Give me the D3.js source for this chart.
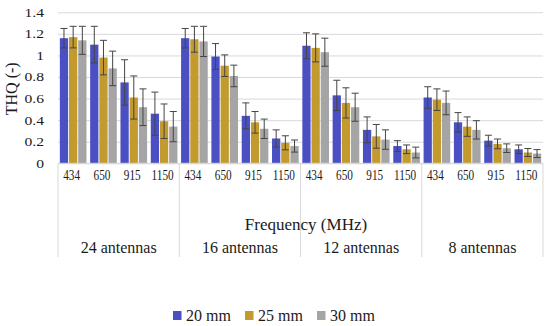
<!DOCTYPE html>
<html>
<head>
<meta charset="utf-8">
<script src="https://cdn.jsdelivr.net/npm/d3@7"></script>
<style>
  body { margin: 0; background: #fff; }
  svg { display: block; }
</style>
</head>
<body>
<div id="chart"></div>
<script>
const groups = ["24 antennas", "16 antennas", "12 antennas", "8 antennas"];
const freqs = ["434", "650", "915", "1150"];
const series = ["20 mm", "25 mm", "30 mm"];
const colors = ["#4a50c2", "#c29a2e", "#a5a5a5"];
const yTicks = [0, 0.2, 0.4, 0.6, 0.8, 1, 1.2, 1.4];

// values in order: group by group, 434/650/915/1150 inside each
const thq20 = [1.16, 1.10, 0.75, 0.46, 1.16, 0.99, 0.44, 0.23, 1.09, 0.63, 0.31, 0.16, 0.61, 0.38, 0.21, 0.13];
const thq25 = [1.17, 0.98, 0.61, 0.39, 1.15, 0.905, 0.38, 0.19, 1.07, 0.56, 0.25, 0.13, 0.59, 0.34, 0.18, 0.10];
const thq30 = [1.14, 0.88, 0.52, 0.34, 1.13, 0.81, 0.32, 0.16, 1.03, 0.52, 0.22, 0.10, 0.56, 0.31, 0.14, 0.09];
const err20 = [0.09, 0.17, 0.21, 0.20, 0.09, 0.12, 0.12, 0.08, 0.12, 0.14, 0.12, 0.05, 0.10, 0.09, 0.05, 0.04];
const err25 = [0.10, 0.16, 0.20, 0.16, 0.12, 0.10, 0.10, 0.065, 0.13, 0.14, 0.11, 0.04, 0.10, 0.09, 0.045, 0.037];
const err30 = [0.13, 0.16, 0.17, 0.14, 0.14, 0.10, 0.09, 0.056, 0.13, 0.13, 0.09, 0.05, 0.11, 0.085, 0.04, 0.037];

const vals = [thq20, thq25, thq30];
const errs = [err20, err25, err30];

const width = 550, height = 326;
const plotL = 58, plotR = 543, plotT = 12.3, plotB = 163.3;
const serif = "'Liberation Serif', 'DejaVu Serif', 'Times New Roman', serif";

const svg = d3.select("#chart").append("svg")
  .attr("width", width)
  .attr("height", height)
  .attr("font-family", serif);

const x0 = d3.scaleBand().domain(groups).range([plotL, plotR]);
const x1 = d3.scaleBand().domain(freqs).range([0, x0.bandwidth()]);
const x2 = d3.scaleBand().domain(series).range([0, x1.bandwidth()])
  .paddingInner(0.1).paddingOuter(0.2);
const y = d3.scaleLinear().domain([0, 1.4]).range([plotB, plotT]);

// gridlines + y labels
const yAxis = svg.append("g")
  .attr("transform", `translate(${plotL},0)`)
  .call(d3.axisLeft(y).tickValues(yTicks).tickSize(-(plotR - plotL)).tickPadding(14)
    .tickFormat(d => String(+d.toFixed(1))));
yAxis.attr("font-family", serif).attr("font-size", 12);
yAxis.select(".domain").remove();
yAxis.selectAll("line").attr("stroke", "#d9d9d9");
yAxis.selectAll("text")
  .attr("fill", "#1a1a1a")
  .attr("transform", "scale(1.3,1)")
  .attr("x", -14 / 1.3);

// y title
svg.append("text")
  .attr("transform", `translate(17,${(plotT + plotB) / 2 + 1}) rotate(-90)`)
  .attr("text-anchor", "middle")
  .attr("font-size", 16)
  .attr("fill", "#1a1a1a")
  .text("THQ (-)");

// bars
const rows = [];
groups.forEach((g, gi) => freqs.forEach((f, fi) => series.forEach((s, si) => {
  const k = gi * freqs.length + fi;
  rows.push({ g, f, s, si, v: vals[si][k], e: errs[si][k] });
})));

svg.append("g").selectAll("rect")
  .data(rows)
  .join("rect")
  .attr("x", d => x0(d.g) + x1(d.f) + x2(d.s))
  .attr("y", d => y(d.v))
  .attr("width", x2.bandwidth())
  .attr("height", d => y(0) - y(d.v))
  .attr("fill", d => colors[d.si]);

// error bars
const eb = svg.append("g")
  .attr("stroke", "#454545")
  .attr("stroke-width", 1)
  .selectAll("g")
  .data(rows)
  .join("g")
  .attr("transform", d => `translate(${x0(d.g) + x1(d.f) + x2(d.s) + x2.bandwidth() / 2},0)`);
eb.append("line")
  .attr("y1", d => y(d.v + d.e)).attr("y2", d => y(d.v - d.e));
eb.append("line")
  .attr("x1", -3.5).attr("x2", 3.5)
  .attr("y1", d => y(d.v + d.e)).attr("y2", d => y(d.v + d.e));
eb.append("line")
  .attr("x1", -3.5).attr("x2", 3.5)
  .attr("y1", d => y(d.v - d.e)).attr("y2", d => y(d.v - d.e));

// category axis line
svg.append("line")
  .attr("x1", plotL).attr("x2", plotR)
  .attr("y1", y(0)).attr("y2", y(0))
  .attr("stroke", "#d9d9d9");

// group separators
svg.append("g").selectAll("line")
  .data(groups.map(g => x0(g)).concat([plotR]))
  .join("line")
  .attr("x1", d => d).attr("x2", d => d)
  .attr("y1", y(0)).attr("y2", 257)
  .attr("stroke", "#d9d9d9");

// frequency labels
groups.forEach(g => {
  const ax = svg.append("g")
    .attr("transform", `translate(${x0(g) - 1.5},${y(0)})`)
    .call(d3.axisBottom(x1).tickSize(0).tickPadding(17));
  ax.attr("font-family", serif).attr("font-size", 15);
  ax.select(".domain").remove();
  ax.selectAll("text")
    .attr("fill", "#1a1a1a")
    .attr("dy", 0)
    .attr("transform", "scale(0.75,1)");
});

// axis title
svg.append("text")
  .attr("x", 306).attr("y", 230)
  .attr("text-anchor", "middle")
  .attr("font-size", 17)
  .attr("fill", "#1a1a1a")
  .text("Frequency (MHz)");

// group labels
svg.append("g").selectAll("text")
  .data(groups)
  .join("text")
  .attr("x", d => x0(d) + x0.bandwidth() / 2)
  .attr("y", 253)
  .attr("text-anchor", "middle")
  .attr("font-size", 16)
  .attr("fill", "#1a1a1a")
  .text(d => d);

// legend
const lg = svg.append("g").selectAll("g")
  .data(series)
  .join("g")
  .attr("transform", (d, i) => `translate(${173 + i * 72},311)`);
lg.append("rect")
  .attr("width", 8.5).attr("height", 9)
  .attr("fill", (d, i) => colors[i]);
lg.append("text")
  .attr("x", 13).attr("y", 9.5)
  .attr("font-size", 16)
  .attr("fill", "#1a1a1a")
  .text(d => d);
</script>
</body>
</html>
